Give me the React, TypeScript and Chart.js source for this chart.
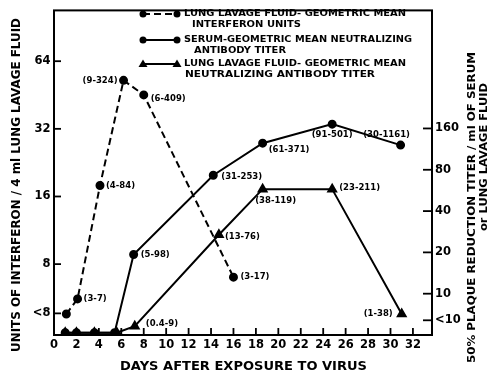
import { useEffect, useRef } from 'react';
import { Chart, registerables } from 'chart.js';

Chart.register(...registerables);

// ---------- data ----------
const DAY_TICKS = [0, 2, 4, 6, 8, 10, 12, 14, 16, 18, 20, 22, 24, 26, 28, 30, 32];

const INTERFERON_DAYS = [1.1, 2.1, 4.1, 6.2, 8.0, 16.0];
const INTERFERON_UNITS = [4.8, 5.6, 17.9, 52.6, 45.3, 7.0];
const INTERFERON_RANGES = ['', '(3-7)', '(4-84)', '(9-324)', '(6-409)', '(3-17)'];

const SERUM_DAYS = [1.0, 2.0, 3.6, 5.4, 7.1, 14.2, 18.6, 24.8, 30.9];
const SERUM_TITER = [5.2, 5.2, 5.2, 5.2, 19.3, 73, 125, 172, 121];
const SERUM_RANGES = ['', '', '', '', '(5-98)', '(31-253)', '(61-371)', '(91-501)', '(30-1161)'];

const LAVAGE_DAYS = [1.0, 2.0, 3.6, 5.6, 7.2, 14.7, 18.6, 24.8, 31.0];
const LAVAGE_TITER = [5.2, 5.2, 5.2, 5.2, 5.8, 26.9, 57.8, 57.8, 7.1];
const LAVAGE_RANGES = ['', '', '', '', '(0.4-9)', '(13-76)', '(38-119)', '(23-211)', '(1-38)'];

const LEFT_TICK_VALUES = [4.83, 8, 16, 32, 64];
const LEFT_TICK_LABELS = ['<8', '8', '16', '32', '64'];
const RIGHT_TICK_VALUES = [6.4, 10, 20, 40, 80, 160];
const RIGHT_TICK_LABELS = ['<10', '10', '20', '40', '80', '160'];

const LEGEND_LINES = [
  ['LUNG LAVAGE FLUID- GEOMETRIC MEAN', 'INTERFERON UNITS'],
  ['SERUM-GEOMETRIC MEAN NEUTRALIZING', 'ANTIBODY TITER'],
  ['LUNG LAVAGE FLUID- GEOMETRIC MEAN', 'NEUTRALIZING ANTIBODY TITER'],
];

const X_TITLE = 'DAYS AFTER EXPOSURE TO VIRUS';
const LEFT_TITLE = 'UNITS OF INTERFERON / 4 ml LUNG LAVAGE FLUID';
const RIGHT_TITLE_1 = '50% PLAQUE REDUCTION TITER / ml OF SERUM';
const RIGHT_TITLE_2 = 'or LUNG LAVAGE FLUID';

// ---------- styling / placement ----------
const FONT = '"DejaVu Sans", sans-serif';
type Place = [number, number, CanvasTextAlign] | null;
const INTERFERON_LABEL_PLACE: Place[] = [null, [6, 0, 'left'], [6, 0, 'left'], [-6, 0, 'right'], [7, 4, 'left'], [7, 0, 'left']];
const SERUM_LABEL_PLACE: Place[] = [null, null, null, null, [7, 0, 'left'], [8, 2, 'left'], [6, 7, 'left'], [0, 11, 'center'], [-14, -10, 'center']];
const LAVAGE_LABEL_PLACE: Place[] = [null, null, null, null, [11, -2, 'left'], [6, 2, 'left'], [13, 12, 'center'], [7, -1, 'left'], [-9, 0, 'right']];

function drawFitted(ctx: CanvasRenderingContext2D, text: string, cx: number, cy: number, width: number, font: string, rot: number, align: CanvasTextAlign = 'center') {
  ctx.save();
  ctx.font = font;
  const w = ctx.measureText(text).width;
  ctx.translate(cx, cy);
  ctx.rotate(rot);
  ctx.scale(width / w, 1);
  ctx.textAlign = align;
  ctx.textBaseline = 'middle';
  ctx.fillStyle = '#000';
  ctx.fillText(text, 0, 0);
  ctx.restore();
}

const overlay = {
  id: 'overlay',
  afterDatasetsDraw(chart: any) {
    const ctx: CanvasRenderingContext2D = chart.ctx;
    const ranges = [INTERFERON_RANGES, SERUM_RANGES, LAVAGE_RANGES];
    const places = [INTERFERON_LABEL_PLACE, SERUM_LABEL_PLACE, LAVAGE_LABEL_PLACE];
    ctx.save();
    ctx.font = `bold 8.5px ${FONT}`;
    ctx.fillStyle = '#000';
    ctx.textBaseline = 'middle';
    ranges.forEach((arr, di) => {
      const meta = chart.getDatasetMeta(di);
      arr.forEach((t, i) => {
        const p = places[di][i];
        if (!t || !p) return;
        const el = meta.data[i];
        ctx.textAlign = p[2];
        ctx.fillText(t, el.x + p[0], el.y + p[1]);
      });
    });
    ctx.restore();
  },
  afterDraw(chart: any) {
    const ctx: CanvasRenderingContext2D = chart.ctx;
    const a = chart.chartArea;
    ctx.save();
    ctx.strokeStyle = '#000';
    ctx.lineWidth = 2;
    ctx.strokeRect(a.left, a.top, a.right - a.left, a.bottom - a.top);
    ctx.lineWidth = 1.8;
    const sx = chart.scales.x;
    DAY_TICKS.forEach((v) => {
      const px = sx.getPixelForValue(v);
      ctx.beginPath();
      ctx.moveTo(px, a.bottom);
      ctx.lineTo(px, a.bottom - 7);
      ctx.stroke();
    });
    const sl = chart.scales.yL;
    LEFT_TICK_VALUES.forEach((v) => {
      const py = sl.getPixelForValue(v);
      ctx.beginPath();
      ctx.moveTo(a.left, py);
      ctx.lineTo(a.left + 7, py);
      ctx.stroke();
    });
    const sr = chart.scales.yR;
    RIGHT_TICK_VALUES.forEach((v) => {
      const py = sr.getPixelForValue(v);
      ctx.beginPath();
      ctx.moveTo(a.right, py);
      ctx.lineTo(a.right - 9, py);
      ctx.stroke();
    });
    ctx.restore();

    // axis titles
    drawFitted(ctx, X_TITLE, 243.5, 366.5, 247, `bold 12px ${FONT}`, 0);
    drawFitted(ctx, LEFT_TITLE, 17, 185, 334, `bold 12.5px ${FONT}`, -Math.PI / 2);
    drawFitted(ctx, RIGHT_TITLE_1, 472.5, 207.5, 311, `bold 11px ${FONT}`, -Math.PI / 2);
    drawFitted(ctx, RIGHT_TITLE_2, 484.5, 157, 148, `bold 10.5px ${FONT}`, -Math.PI / 2);

    // legend
    const rows = [14, 40, 64];
    const second = [25, 50.5, 75];
    const secondX = [192, 194, 185];
    const w1 = [222, 228, 222];
    const w2 = [109, 92, 190];
    rows.forEach((y, i) => {
      ctx.save();
      ctx.strokeStyle = '#000';
      ctx.fillStyle = '#000';
      ctx.lineWidth = 2;
      ctx.setLineDash(i === 0 ? [7, 4] : []);
      ctx.beginPath();
      ctx.moveTo(143, y);
      ctx.lineTo(177, y);
      ctx.stroke();
      ctx.setLineDash([]);
      [143, 177].forEach((x) => {
        ctx.beginPath();
        if (i < 2) {
          ctx.arc(x, y, 3.5, 0, Math.PI * 2);
        } else {
          ctx.moveTo(x, y - 4.5);
          ctx.lineTo(x + 4.5, y + 3);
          ctx.lineTo(x - 4.5, y + 3);
          ctx.closePath();
        }
        ctx.fill();
      });
      ctx.restore();
      drawFitted(ctx, LEGEND_LINES[i][0], 184, y, w1[i], `bold 9.5px ${FONT}`, 0, 'left');
      drawFitted(ctx, LEGEND_LINES[i][1], secondX[i], second[i], w2[i], `bold 9.5px ${FONT}`, 0, 'left');
    });
  },
};

export default function App() {
  const ref = useRef<HTMLCanvasElement | null>(null);
  useEffect(() => {
    if (!ref.current) return;
    const tickFont = { family: FONT, size: 11.5, weight: 'bold' as const };
    const chart = new Chart(ref.current, {
      type: 'line',
      data: {
        datasets: [
          {
            data: INTERFERON_DAYS.map((d, i) => ({ x: d, y: INTERFERON_UNITS[i] })),
            yAxisID: 'yL',
            borderColor: '#000',
            backgroundColor: '#000',
            borderWidth: 2,
            borderDash: [7, 4],
            pointStyle: 'circle',
            pointRadius: 3.5,
            tension: 0,
          },
          {
            data: SERUM_DAYS.map((d, i) => ({ x: d, y: SERUM_TITER[i] })),
            yAxisID: 'yR',
            borderColor: '#000',
            backgroundColor: '#000',
            borderWidth: 2,
            pointStyle: 'circle',
            pointRadius: 3.5,
            tension: 0,
          },
          {
            data: LAVAGE_DAYS.map((d, i) => ({ x: d, y: LAVAGE_TITER[i] })),
            yAxisID: 'yR',
            borderColor: '#000',
            backgroundColor: '#000',
            borderWidth: 2,
            pointStyle: 'triangle',
            pointRadius: 4.5,
            tension: 0,
          },
        ],
      },
      options: {
        responsive: false,
        animation: false,
        events: [],
        layout: { padding: { top: 5, left: 0, right: 0, bottom: 0 } },
        plugins: { legend: { display: false }, tooltip: { enabled: false }, title: { display: false } },
        scales: {
          x: {
            type: 'linear',
            min: 0,
            max: 33.7,
            afterFit: (s: any) => { s.height = 41; },
            afterBuildTicks: (s: any) => { s.ticks = DAY_TICKS.map((v) => ({ value: v })); },
            grid: { display: false, drawTicks: false },
            border: { display: false },
            ticks: { font: tickFont, color: '#000', padding: 3, maxRotation: 0, autoSkip: false, callback: (v: any) => String(v) },
          },
          yL: {
            type: 'logarithmic',
            position: 'left',
            min: 3.87,
            max: 107.7,
            afterFit: (s: any) => { s.width = 54; },
            afterBuildTicks: (s: any) => { s.ticks = LEFT_TICK_VALUES.map((v) => ({ value: v })); },
            grid: { display: false, drawTicks: false },
            border: { display: false },
            ticks: { font: tickFont, color: '#000', padding: 3.5, autoSkip: false, callback: (_v: any, i: number) => LEFT_TICK_LABELS[i] },
          },
          yR: {
            type: 'logarithmic',
            position: 'right',
            min: 5,
            max: 1160,
            afterFit: (s: any) => { s.width = 59; },
            afterBuildTicks: (s: any) => { s.ticks = RIGHT_TICK_VALUES.map((v) => ({ value: v })); },
            grid: { display: false, drawTicks: false },
            border: { display: false },
            ticks: { font: tickFont, color: '#000', padding: 3, autoSkip: false, callback: (_v: any, i: number) => RIGHT_TICK_LABELS[i] },
          },
        },
      },
      plugins: [overlay],
    });
    return () => chart.destroy();
  }, []);
  return (
    <div style={{ position: 'absolute', left: 0, top: 0, width: 491, height: 376, background: '#fff' }}>
      <canvas ref={ref} width={491} height={376} />
    </div>
  );
}
